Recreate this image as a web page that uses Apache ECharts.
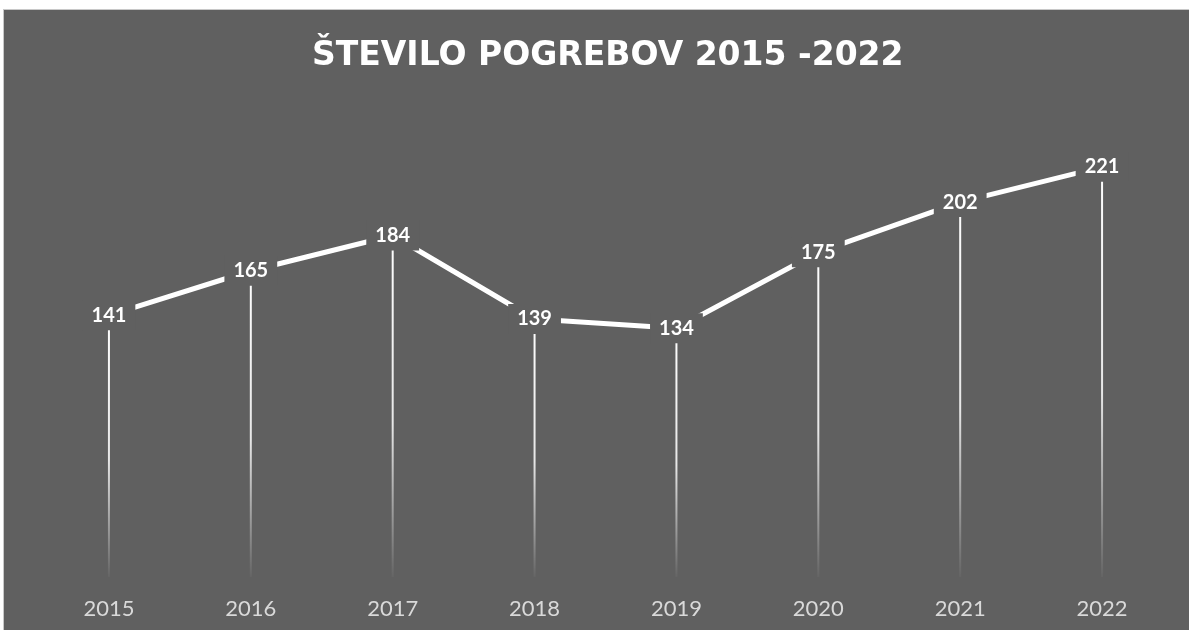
<!DOCTYPE html>
<html>
<head>
<meta charset="utf-8">
<script src="https://cdn.jsdelivr.net/npm/echarts@6/dist/echarts.min.js"></script>
<style>
html,body{margin:0;padding:0;background:#ffffff;width:1189px;height:630px;overflow:hidden;}
#frame{position:absolute;left:3px;top:9px;width:1185px;height:621px;border:1px solid #c8c8c8;border-right:none;border-bottom:none;background:#606060;}
#chart{position:absolute;left:0;top:0;width:1185px;height:621px;}
</style>
</head>
<body>
<div id="frame"><div id="chart"></div></div>
<script>
const titleText = 'ŠTEVILO POGREBOV 2015 -2022';
const categories = ['2015','2016','2017','2018','2019','2020','2021','2022'];
const values = [141, 165, 184, 139, 134, 175, 202, 221];

const chart = echarts.init(document.getElementById('chart'), null, {renderer:'canvas'});
const bg = '#606060';
chart.setOption({
  backgroundColor: bg,
  animation: false,
  title: {
    text: titleText,
    left: 303,
    top: 25,
    textStyle: {color:'#ffffff', fontFamily:'DejaVu Sans', fontWeight:'bold', fontSize:33}
  },
  grid: {left: 34, right: 16, top: 103, bottom: 54, containLabel:false},
  xAxis: {
    type:'category',
    data: categories,
    boundaryGap: true,
    axisLine:{show:false},
    axisTick:{show:false},
    splitLine:{show:false},
    axisLabel:{color:'#d9d9d9', fontFamily:'Lato', fontSize:22, margin:21}
  },
  yAxis: {
    type:'value', min:0, max:250, interval:50,
    show:false,
    splitLine:{show:false}
  },
  series: [
    {
      type:'bar',
      data: values,
      barWidth: 2,
      silent:true,
      z:1,
      itemStyle:{
        color: new echarts.graphic.LinearGradient(0,0,0,1,[
          {offset:0, color:'rgba(255,255,255,1)'},
          {offset:0.55, color:'rgba(255,255,255,0.85)'},
          {offset:1, color:'rgba(255,255,255,0.03)'}
        ])
      }
    },
    {
      type:'line',
      data: values,
      z:2,
      symbol:'circle',
      symbolSize:0,
      showSymbol:true,
      lineStyle:{color:'#ffffff', width:5},
      itemStyle:{color:'#ffffff'},
      label:{
        show:true,
        position:'inside',
        color:'#ffffff',
        fontFamily:'Lato',
        fontWeight:'bold',
        fontSize:20,
        backgroundColor:bg,
        padding:[5,9,5,9]
      }
    }
  ]
});
</script>
</body>
</html>
